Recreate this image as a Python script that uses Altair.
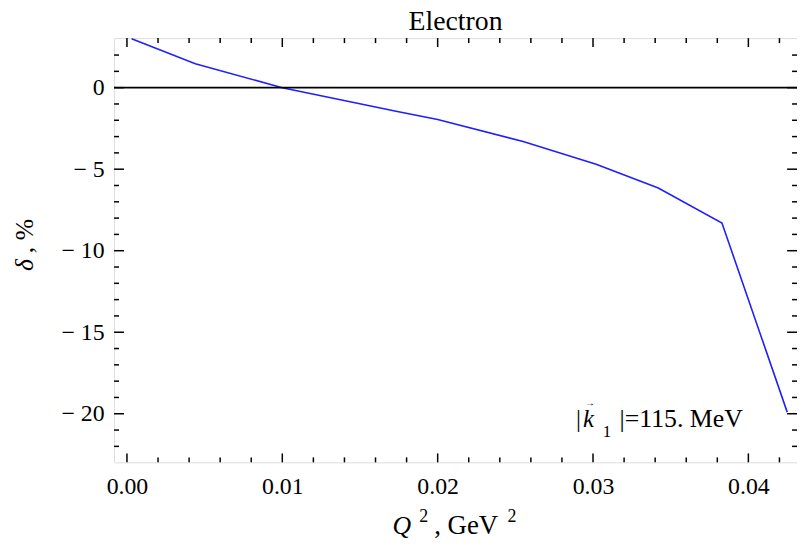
import altair as alt
import pandas as pd

# ---- data ----
q2 = [0.0003, 0.0044, 0.0100, 0.0174, 0.0200, 0.0255, 0.0302, 0.0342, 0.0383, 0.0425]
delta = [3.0, 1.46, 0.0, -1.46, -1.95, -3.3, -4.7, -6.15, -8.3, -19.9]

x_major = [0.00, 0.01, 0.02, 0.03, 0.04]
x_minor = [0.002, 0.004, 0.006, 0.008, 0.012, 0.014, 0.016, 0.018,
           0.022, 0.024, 0.026, 0.028, 0.032, 0.034, 0.036, 0.038, 0.042]
y_major = [0, -5, -10, -15, -20]
y_minor = [2, 1, -1, -2, -3, -4, -6, -7, -8, -9, -11, -12, -13, -14,
           -16, -17, -18, -19, -21, -22]

W, H = 689, 428
FONT = "Liberation Serif"
x_domain = [-0.00083, 0.04313]
y_domain = [-22.98, 3.04]

xs = alt.Scale(domain=x_domain, nice=False, zero=False)
ys = alt.Scale(domain=y_domain, nice=False, zero=False)

xaxis = alt.Axis(values=x_major, format=".2f", tickSize=0, domain=False, grid=False,
                 labelFont=FONT, labelFontSize=24, labelColor="black",
                 labelPadding=12, title=None, labelOverlap=False)
yaxis = alt.Axis(values=y_major, tickSize=0, domain=False, grid=False,
                 labelExpr="datum.value < 0 ? '\u2212 ' + format(-datum.value, 'd') : format(datum.value, 'd')",
                 labelFont=FONT, labelFontSize=24, labelColor="black",
                 labelPadding=10, title=None, labelOverlap=False)

curve_df = pd.DataFrame({"q2": q2, "delta": delta})

curve = alt.Chart(curve_df).mark_line(color="#1f1fff", strokeWidth=1.6, clip=True).encode(
    x=alt.X("q2:Q", scale=xs, axis=xaxis),
    y=alt.Y("delta:Q", scale=ys, axis=yaxis),
)

zero = alt.Chart(pd.DataFrame({"y": [0]})).mark_rule(color="black", strokeWidth=1.6).encode(
    y=alt.Y("y:Q", scale=ys, axis=yaxis)
)

def xticks(vals, length):
    d = pd.DataFrame({"v": vals})
    bottom = alt.Chart(d).mark_rule(color="black", strokeWidth=1.5).encode(
        x=alt.X("v:Q", scale=xs, axis=xaxis), y=alt.value(H), y2=alt.value(H - length))
    top = alt.Chart(d).mark_rule(color="black", strokeWidth=1.5).encode(
        x=alt.X("v:Q", scale=xs, axis=xaxis), y=alt.value(0), y2=alt.value(length))
    return [bottom, top]

def yticks(vals, length):
    d = pd.DataFrame({"v": vals})
    left = alt.Chart(d).mark_rule(color="black", strokeWidth=1.5).encode(
        y=alt.Y("v:Q", scale=ys, axis=yaxis), x=alt.value(0), x2=alt.value(length))
    right = alt.Chart(d).mark_rule(color="black", strokeWidth=1.5).encode(
        y=alt.Y("v:Q", scale=ys, axis=yaxis), x=alt.value(W), x2=alt.value(W - length))
    return [left, right]

one = pd.DataFrame({"a": [0]})

def txt(s, x, y, size, italic=False, align="left", angle=0, baseline="alphabetic"):
    kw = dict(text=s, font=FONT, fontSize=size, color="black", align=align, baseline=baseline)
    if italic:
        kw["fontStyle"] = "italic"
    if angle:
        kw["angle"] = angle
    return alt.Chart(one).mark_text(**kw).encode(x=alt.value(x), y=alt.value(y))

texts = [
    txt("Electron", W / 2, -8, 28, align="center"),
    # y title
    txt("\u03b4", -82, 229, 26, italic=True, align="center", angle=270),
    txt(", %", -82, 217, 26, align="left", angle=270),
    # x title
    txt("Q", 281, 500, 26, italic=True),
    txt("2", 308, 488, 18),
    txt(", GeV", 323, 500, 27),
    txt("2", 397, 488, 18),
    # annotation
    txt("|", 466, 392, 25),
    txt("k", 473, 392, 25, italic=True),
    txt("\u2192", 480, 371, 10, align="center"),
    txt("1", 493, 402, 17),
    txt("|=115. MeV", 510, 392, 26),
]

layers = [curve, zero] + xticks(x_major, 9) + xticks(x_minor, 5) + yticks(y_major, 10) + yticks(y_minor, 5) + texts

chart = alt.layer(*layers).properties(
    width=W, height=H,
    autosize=alt.AutoSizeParams(type="none"),
    padding={"left": 107, "top": 28, "right": 0, "bottom": 78},
).configure_view(stroke="black", strokeWidth=1.5).configure(background="white")

chart.save("out.html", embed_options={"renderer": "svg", "actions": False})
